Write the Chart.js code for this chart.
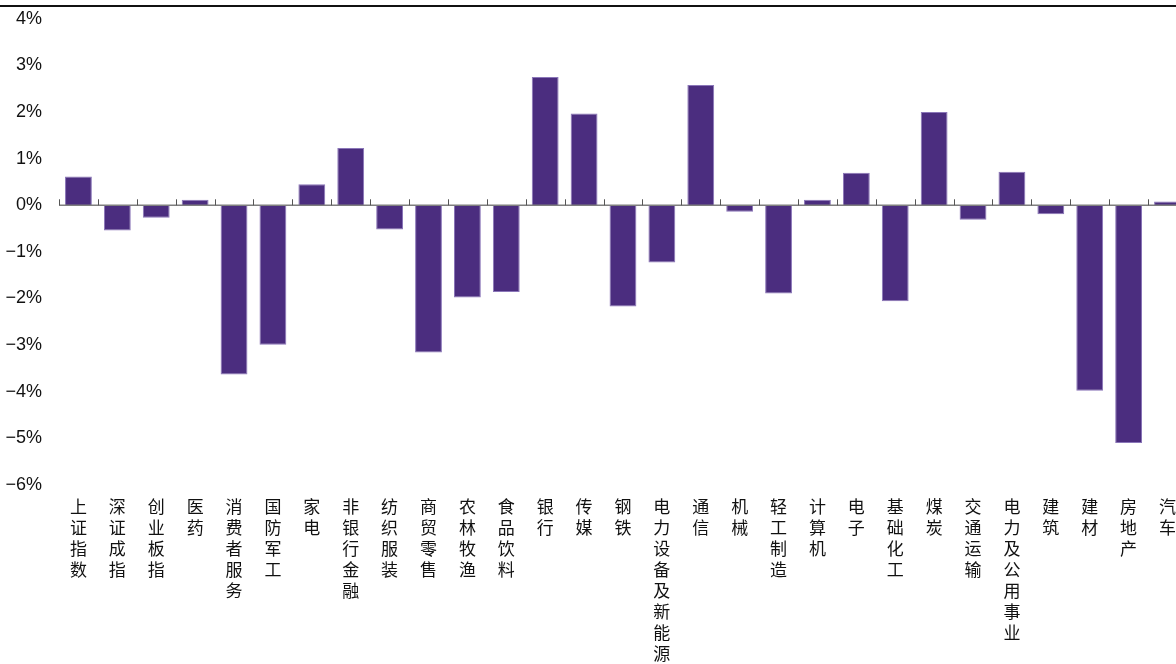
<!DOCTYPE html>
<html>
<head>
<meta charset="utf-8">
<script src="https://cdn.jsdelivr.net/npm/chart.js@4"></script>
<style>
  html, body { margin: 0; padding: 0; background: #fff; overflow: hidden; }
  #wrap { position: relative; width: 1187px; height: 664px; overflow: hidden; }
  #chart { display: block; position: relative; }
  #topline { position: absolute; left: 0; top: 5px; width: 1176px; height: 2px; background: #111; z-index: 2; }
</style>
</head>
<body>
<div id="wrap">
  <div id="topline"></div>
  <canvas id="chart" width="1187" height="664"></canvas>
</div>
<script>
// Kategorien (Branchen / Indizes)
const categories = ["上证指数", "深证成指", "创业板指", "医药", "消费者服务", "国防军工", "家电",
  "非银行金融", "纺织服装", "商贸零售", "农林牧渔", "食品饮料", "银行", "传媒", "钢铁",
  "电力设备及新能源", "通信", "机械", "轻工制造", "计算机", "电子", "基础化工", "煤炭",
  "交通运输", "电力及公用事业", "建筑", "建材", "房地产", "汽车"];

// Veränderung in %
const changes = [0.62, -0.54, -0.27, 0.12, -3.63, -2.99, 0.45,
  1.23, -0.52, -3.16, -1.98, -1.86, 2.75, 1.97, -2.17,
  -1.23, 2.58, -0.14, -1.89, 0.12, 0.70, -2.06, 2.00,
  -0.31, 0.72, -0.19, -3.98, -5.10, 0.08];

// Y-Achse
const yMin = -6;
const yMax = 4;

// Nulllinie mit kleinen Strichen zwischen den Kategorien
const zeroLine = {
  id: 'zeroLine',
  afterDatasetsDraw(chart) {
    const x = chart.scales.x, y = chart.scales.y, c = chart.ctx;
    const y0 = y.getPixelForValue(0);
    c.save();
    c.strokeStyle = '#7f7f7f';
    c.lineWidth = 1.5;
    c.beginPath();
    c.moveTo(chart.chartArea.left, y0);
    c.lineTo(chart.chartArea.right, y0);
    c.stroke();
    c.lineWidth = 1;
    c.strokeStyle = '#555';
    for (let i = 0; i <= categories.length; i++) {
      const px = Math.round(x.getPixelForValue(i - 0.5)) + 0.5;
      c.beginPath();
      c.moveTo(px, y0);
      c.lineTo(px, y0 - 6);
      c.stroke();
    }
    c.restore();
  }
};

const canvas = document.getElementById('chart');
const chart = new Chart(canvas.getContext('2d'), {
  type: 'bar',
  data: {
    labels: categories.map(n => n.split('')),
    datasets: [{
      data: changes,
      backgroundColor: '#4b2d7f',
      borderColor: '#8a76b8',
      borderWidth: 1,
      barPercentage: 0.69,
      categoryPercentage: 1
    }]
  },
  options: {
    responsive: false,
    maintainAspectRatio: false,
    animation: false,
    layout: { padding: { top: 19, left: 0, right: 0, bottom: 0 } },
    plugins: { legend: { display: false }, tooltip: { enabled: false } },
    scales: {
      x: {
        grid: { display: false, drawTicks: false },
        border: { display: false },
        afterFit: s => { s.height = 179; },
        ticks: {
          maxRotation: 0,
          minRotation: 0,
          autoSkip: false,
          padding: 11,
          color: '#111',
          font: { family: "'Noto Sans CJK SC', 'Noto Sans', sans-serif", size: 17, lineHeight: 21 / 17 }
        }
      },
      y: {
        min: yMin,
        max: yMax,
        grid: { display: false, drawTicks: false },
        border: { display: false },
        afterFit: s => { s.width = 59; },
        ticks: {
          stepSize: 1,
          padding: 17,
          color: '#111',
          font: { family: "'Liberation Sans Narrow', 'Liberation Sans', Arial, sans-serif", size: 18 },
          callback: v => (v < 0 ? '\u2212' + Math.abs(v) : v) + '%'
        }
      }
    }
  },
  plugins: [zeroLine]
});

// Zeichenfläche verschieben, damit 4% bei y=19 und -6% bei y=485 liegt
for (let k = 0; k < 4; k++) {
  const top = chart.scales.y.getPixelForValue(yMax);
  const bottom = chart.scales.y.getPixelForValue(yMin);
  const shift = 19 - top;
  canvas.style.top = shift + 'px';
  const err = Math.round(485 - (shift + bottom));
  if (err === 0) break;
  chart.resize(1187, chart.height + err);
}
</script>
</body>
</html>
